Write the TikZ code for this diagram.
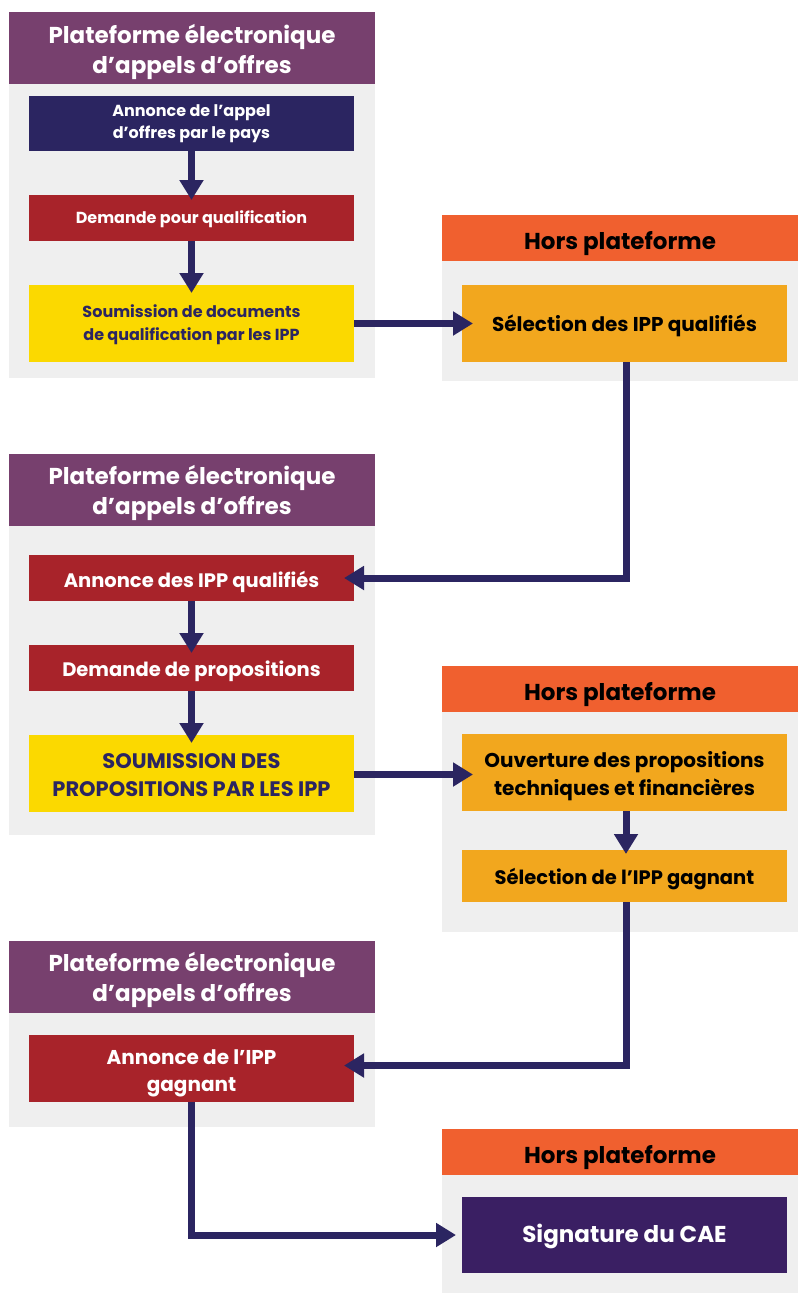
\documentclass[tikz,border=0pt]{standalone}
\usepackage{fontspec}
\setmainfont{Poppins}
\usepackage{tikz}
\usetikzlibrary{arrows.meta}

\definecolor{plumhead}{HTML}{77406E}
\definecolor{orangehead}{HTML}{F0602F}
\definecolor{navybox}{HTML}{2B2561}
\definecolor{redbox}{HTML}{A8232A}
\definecolor{yellowbox}{HTML}{FBD900}
\definecolor{amberbox}{HTML}{F2A71E}
\definecolor{violetbox}{HTML}{3A1F63}
\definecolor{panelgrey}{HTML}{EFEFEF}

% taller first line, pushes a two-line label down a little
\newcommand{\topstrut}[1]{\rule{0pt}{#1}}
\newcommand{\platlabel}{\topstrut{26.5pt}Plateforme électronique\\d’appels d’offres}

\begin{document}
\begin{tikzpicture}[x=1pt,y=-1pt,
	box/.style={inner sep=0pt, outer sep=0pt, minimum width=325pt, align=center, font=\bfseries},
	drop/.style={execute at begin node={\topstrut{#1}}},
	plathead/.style={box, fill=plumhead, text=white, minimum width=366pt, minimum height=72pt, font=\bfseries\fontsize{23}{30}\selectfont},
	horshead/.style={box, fill=orangehead, text=black, minimum width=356pt, minimum height=46pt, font=\bfseries\fontsize{23}{28}\selectfont, drop=29pt},
	flow/.style={draw=navybox, line width=7pt, -{Triangle[length=20pt,width=23pt]}, shorten >=-8pt}]
			%%%%% START %%%%%
			\useasboundingbox (0,0) rectangle (798,1293);
			
			% grey panels
			\fill[panelgrey] (9,84) rectangle (375,378);
			\fill[panelgrey] (442,261) rectangle (798,381);
			\fill[panelgrey] (9,526) rectangle (375,835);
			\fill[panelgrey] (442,712) rectangle (798,932);
			\fill[panelgrey] (9,1013) rectangle (375,1127);
			\fill[panelgrey] (442,1175) rectangle (798,1293);
			
			% headers
			\node[plathead] (plat1) at (192,48) {\platlabel};
			\node[plathead] (plat2) at (192,489.5) {\platlabel};
			\node[plathead] (plat3) at (192,976.5) {\platlabel};
			\node[horshead] (hors1) at (620,238) {Hors plateforme};
			\node[horshead] (hors2) at (620,689) {Hors plateforme};
			\node[horshead] (hors3) at (620,1152) {Hors plateforme};
			
			% qualification stage
			\node[box, fill=navybox, text=white, minimum height=55pt, font=\bfseries\fontsize{16}{22}\selectfont] (annappel) at (191.5,123.5) {Annonce de l’appel\\d’offres par le pays};
			\node[box, fill=redbox, text=white, minimum height=46pt, font=\bfseries\fontsize{16}{22}\selectfont, drop=16pt] (demqualif) at (191.5,218) {Demande pour qualification};
			\node[box, fill=yellowbox, text=navybox, minimum height=77pt, font=\bfseries\fontsize{16}{23}\selectfont] (soumdocs) at (191.5,323.5) {\topstrut{16pt}Soumission de documents\\de qualification par les IPP};
			\node[box, fill=amberbox, text=black, minimum height=77pt, font=\bfseries\fontsize{20}{26}\selectfont, drop=22pt] (selqualif) at (624.5,323.5) {Sélection des IPP qualifiés};
			
			% proposals stage
			\node[box, fill=redbox, text=white, minimum height=46pt, font=\bfseries\fontsize{19.5}{26}\selectfont, drop=23.5pt] (annqualif) at (191.5,578) {Annonce des IPP qualifiés};
			\node[box, fill=redbox, text=white, minimum height=46pt, font=\bfseries\fontsize{19.5}{26}\selectfont, drop=22.5pt] (demprop) at (191.5,668) {Demande de propositions};
			\node[box, fill=yellowbox, text=navybox, minimum height=77pt, font=\bfseries\fontsize{21}{28}\selectfont] (soumprop) at (191.5,773.5) {\topstrut{19pt}SOUMISSION DES\\PROPOSITIONS PAR LES IPP};
			\node[box, fill=amberbox, text=black, minimum height=77pt, font=\bfseries\fontsize{20}{28}\selectfont] (ouvprop) at (624.5,772.5) {\topstrut{23pt}Ouverture des propositions\\techniques et financières};
			\node[box, fill=amberbox, text=black, minimum height=52pt, font=\bfseries\fontsize{19.5}{26}\selectfont, drop=21.5pt] (selgagn) at (624.5,876) {Sélection de l’IPP gagnant};
			
			% award stage
			\node[box, fill=redbox, text=white, minimum height=67pt, font=\bfseries\fontsize{20}{27}\selectfont] (anngagn) at (191.5,1068.5) {\topstrut{25pt}Annonce de l’IPP\\gagnant};
			\node[box, fill=violetbox, text=white, minimum height=76pt, font=\bfseries\fontsize{23}{28}\selectfont, drop=22pt] (signcae) at (624.5,1235) {Signature du CAE};
			
			% arrows
			\draw[flow, shorten >=-5pt] (annappel) -- (demqualif);
			\draw[flow] (demqualif) -- (soumdocs);
			\draw[flow, shorten >=-11pt] (soumdocs) -- (selqualif);
			\draw[flow, shorten >=-10pt] ([xshift=1.5pt]selqualif.south) |- (annqualif.east);
			\draw[flow] (annqualif) -- (demprop);
			\draw[flow] (demprop) -- (soumprop);
			\draw[flow, shorten >=-11pt] ([yshift=-1pt]soumprop.east) -- ([yshift=-1pt]soumprop.east -| ouvprop.west);
			\draw[flow, shorten >=-4pt] ([xshift=1.5pt]ouvprop.south) -- ([xshift=1.5pt]selgagn.north);
			\draw[flow, shorten >=-10pt] ([xshift=1.5pt]selgagn.south) |- ([yshift=3pt]anngagn.east);
			\draw[flow, shorten >=6pt] (anngagn.south) |- (signcae.west);
			%%%%% END %%%%%
\end{tikzpicture}
\end{document}
